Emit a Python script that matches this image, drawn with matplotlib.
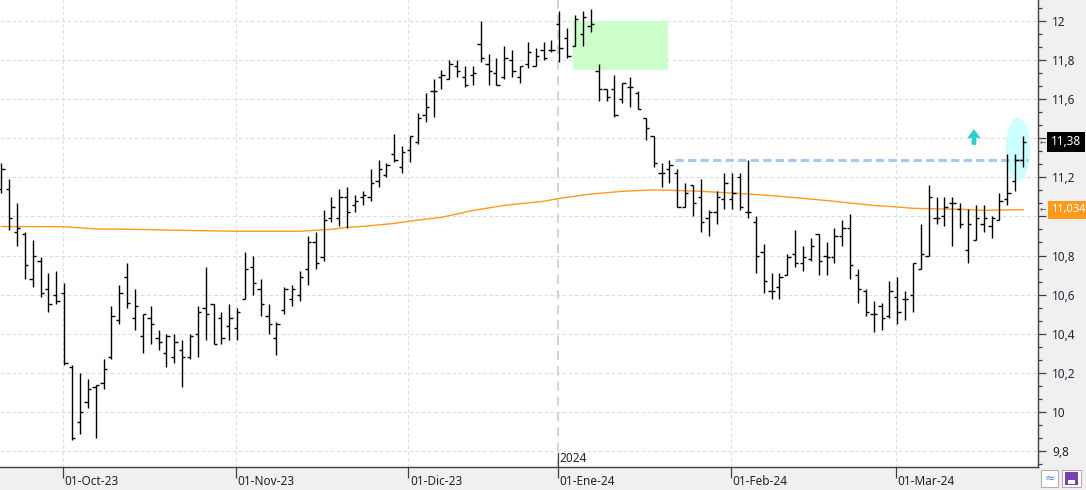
import numpy as np
import pandas as pd
import matplotlib
matplotlib.use("Agg")
import matplotlib.pyplot as plt
import matplotlib.transforms as mtransforms
from matplotlib.patches import Rectangle, Ellipse, Polygon
from matplotlib.ticker import MultipleLocator, FixedLocator

plt.rcParams['font.family'] = ['Noto Sans', 'DejaVu Sans']

# daily OHLC, 20-Sep-23 .. 25-Mar-24 (BME calendar)
opens = [11.14, 11.14, 10.92, 10.91, 10.68, 10.77, 10.63, 10.60, 10.61, 10.23,
         9.95, 10.05, 10.13, 10.15, 10.28, 10.47, 10.69, 10.48, 10.39, 10.48,
         10.38, 10.30, 10.28, 10.32, 10.28, 10.40, 10.53, 10.55, 10.48, 10.44,
         10.43, 10.58, 10.74, 10.63, 10.49, 10.38, 10.52, 10.58, 10.60, 10.73,
         10.87, 10.79, 10.99, 10.99, 11.10, 11.06, 11.10, 11.10, 11.18, 11.21,
         11.32, 11.25, 11.34, 11.38, 11.52, 11.64, 11.71, 11.70, 11.77, 11.71,
         11.72, 11.88, 11.78, 11.73, 11.71, 11.80, 11.71, 11.78, 11.77, 11.85,
         11.85, 11.98, 11.91, 11.87, 11.93, 11.97, 11.74, 11.65, 11.65, 11.60,
         11.66, 11.63, 11.50, 11.41, 11.22, 11.24, 11.22, 11.05, 11.16, 11.10,
         10.99, 11.02, 11.09, 11.09, 11.20, 11.02, 10.97, 10.82, 10.62, 10.64,
         10.70, 10.81, 10.76, 10.78, 10.91, 10.80, 10.79, 10.90, 10.94, 10.70,
         10.62, 10.50, 10.54, 10.49, 10.59, 10.58, 10.60, 10.73, 10.80, 10.99,
         11.00, 11.07, 11.04, 10.83, 10.88, 10.96, 10.95, 10.98, 11.09, 11.18,
         11.29]
highs = [11.27, 11.19, 11.07, 10.92, 10.88, 10.79, 10.71, 10.72, 10.66, 10.24,
         10.20, 10.17, 10.14, 10.27, 10.54, 10.65, 10.76, 10.63, 10.50, 10.54,
         10.42, 10.40, 10.40, 10.37, 10.40, 10.54, 10.74, 10.55, 10.51, 10.55,
         10.53, 10.82, 10.80, 10.68, 10.55, 10.46, 10.64, 10.65, 10.72, 10.90,
         10.92, 11.03, 11.10, 11.14, 11.15, 11.11, 11.13, 11.24, 11.29, 11.27,
         11.42, 11.36, 11.41, 11.53, 11.63, 11.70, 11.75, 11.80, 11.80, 11.77,
         11.77, 12.00, 11.83, 11.81, 11.87, 11.85, 11.77, 11.89, 11.86, 11.89,
         11.90, 12.05, 11.96, 12.03, 12.05, 12.06, 11.78, 11.65, 11.72, 11.68,
         11.71, 11.64, 11.50, 11.41, 11.27, 11.29, 11.24, 11.17, 11.16, 11.19,
         11.03, 11.13, 11.22, 11.22, 11.22, 11.29, 11.00, 10.86, 10.71, 10.71,
         10.81, 10.93, 10.85, 10.89, 10.91, 10.87, 10.94, 10.98, 11.01, 10.73,
         10.63, 10.57, 10.56, 10.67, 10.69, 10.62, 10.76, 10.96, 11.16, 11.10,
         11.10, 11.10, 11.07, 11.04, 11.06, 11.06, 11.00, 11.12, 11.32, 11.32,
         11.41]
lows = [11.12, 10.93, 10.85, 10.68, 10.64, 10.59, 10.51, 10.55, 10.24, 9.86,
        9.89, 10.02, 9.87, 10.12, 10.27, 10.45, 10.53, 10.42, 10.30, 10.35,
        10.32, 10.23, 10.25, 10.13, 10.27, 10.28, 10.37, 10.35, 10.35, 10.37,
        10.37, 10.58, 10.60, 10.49, 10.40, 10.29, 10.50, 10.54, 10.57, 10.65,
        10.73, 10.77, 10.97, 10.95, 10.94, 11.02, 11.06, 11.08, 11.15, 11.20,
        11.28, 11.22, 11.28, 11.37, 11.48, 11.51, 11.65, 11.70, 11.71, 11.66,
        11.67, 11.79, 11.67, 11.67, 11.70, 11.71, 11.68, 11.76, 11.77, 11.80,
        11.84, 11.79, 11.81, 11.87, 11.87, 11.94, 11.59, 11.59, 11.51, 11.58,
        11.56, 11.55, 11.39, 11.25, 11.15, 11.17, 11.05, 11.05, 11.00, 10.92,
        10.90, 10.96, 11.04, 11.04, 11.03, 10.99, 10.71, 10.61, 10.58, 10.58,
        10.70, 10.74, 10.72, 10.77, 10.70, 10.70, 10.76, 10.85, 10.68, 10.56,
        10.49, 10.41, 10.42, 10.48, 10.45, 10.47, 10.51, 10.73, 10.80, 10.96,
        10.95, 10.85, 10.94, 10.76, 10.88, 10.92, 10.89, 10.98, 11.06, 11.13,
        11.25]
closes = [11.24, 10.99, 10.94, 10.75, 10.80, 10.61, 10.55, 10.57, 10.25, 9.87,
          10.00, 10.12, 10.14, 10.22, 10.49, 10.61, 10.56, 10.54, 10.50, 10.45,
          10.36, 10.39, 10.36, 10.28, 10.39, 10.51, 10.50, 10.35, 10.38, 10.48,
          10.51, 10.73, 10.66, 10.55, 10.45, 10.45, 10.63, 10.63, 10.69, 10.87,
          10.76, 10.98, 11.05, 11.10, 11.02, 11.08, 11.11, 11.17, 11.24, 11.26,
          11.29, 11.33, 11.41, 11.50, 11.56, 11.64, 11.72, 11.78, 11.74, 11.67,
          11.73, 11.81, 11.74, 11.67, 11.81, 11.74, 11.77, 11.84, 11.82, 11.81,
          11.85, 11.86, 11.82, 12.01, 12.02, 11.98, 11.65, 11.61, 11.52, 11.68,
          11.66, 11.55, 11.45, 11.27, 11.22, 11.26, 11.05, 11.12, 11.07, 10.97,
          11.02, 11.10, 11.17, 11.12, 11.05, 11.02, 10.80, 10.67, 10.62, 10.69,
          10.79, 10.76, 10.79, 10.85, 10.77, 10.79, 10.90, 10.94, 10.75, 10.63,
          10.51, 10.50, 10.48, 10.62, 10.51, 10.58, 10.76, 10.81, 11.10, 10.99,
          11.05, 11.07, 10.96, 10.96, 10.99, 10.99, 10.99, 11.08, 11.12, 11.29,
          11.38]

# moving average read at some bars (bar index, value)
ma_idx = [0, 8, 12, 18, 22, 30, 38, 40, 42, 44, 46, 50, 52, 56, 60, 64, 69,
          71, 75, 79, 83, 88, 93, 98, 102, 106, 108, 111, 114, 116, 122, 125, 130]
ma_val = [10.948, 10.947, 10.936, 10.933, 10.929, 10.924, 10.924, 10.929,
          10.934, 10.944, 10.949, 10.964, 10.976, 10.995, 11.030, 11.056,
          11.077, 11.092, 11.114, 11.128, 11.135, 11.130, 11.119, 11.106,
          11.092, 11.077, 11.068, 11.056, 11.048, 11.041, 11.036, 11.031, 11.034]

resistance = 11.287
last_close = 11.38
last_ma = 11.034

dates = pd.bdate_range("2023-09-20", "2024-03-25")
dates = dates.drop(pd.to_datetime(["2023-12-25", "2023-12-26", "2024-01-01"]))
month_names = {1: "Ene", 2: "Feb", 3: "Mar", 10: "Oct", 11: "Nov", 12: "Dic"}

x = np.arange(len(closes))

fig = plt.figure(figsize=(10.86, 4.90), dpi=100, facecolor="#f0f0f0")
ax = fig.add_axes([0, 23 / 490, 1038 / 1086, 467 / 490])
ax.set_facecolor("white")

ax.set_xlim(-0.17, 131.9)
ax.set_ylim(9.72, 12.105)

# grid
for v in np.arange(9.8, 12.01, 0.2):
    ax.axhline(v, color="#dcdcdc", lw=0.8, ls=(0, (3, 2.5)), zorder=0)

first_days = []
for i in range(1, len(dates)):
    if dates[i].month != dates[i - 1].month:
        first_days.append(i)
for i in first_days:
    if dates[i].year == 2024 and dates[i].month == 1:
        ax.axvline(i - 0.2, color="#c8c8c8", lw=1.1, ls=(0, (6, 4)), zorder=0)
    else:
        ax.axvline(i - 0.2, color="#dcdcdc", lw=0.8, ls=(0, (3, 2.5)), zorder=0)

# highlight zones
ax.add_patch(Rectangle((72.75, 11.745), 12.05, 0.252, color="#ccffcc", lw=0, zorder=1))
ax.add_patch(Ellipse((129.35, 11.342), 3.05, 0.327, color="#ccffff", lw=0, zorder=1))

# moving average
ax.plot(ma_idx, ma_val, color="#ff9a1a", lw=1.0, zorder=2)

# resistance line
ax.plot([85.7, 130.6], [resistance, resistance], color="#a8c8f0", lw=2.2,
        ls=(0, (2.7, 1.4)), solid_capstyle="butt", zorder=2)

# ohlc bars
ax.vlines(x, lows, highs, color="black", lw=1.0, zorder=3)
ax.hlines(opens, x - 0.42, x, color="black", lw=1.0, zorder=3)
ax.hlines(closes, x, x + 0.42, color="black", lw=1.0, zorder=3)

# up arrow
cx = 123.75
arrow = Polygon([(cx - 0.3, 11.365), (cx + 0.3, 11.365), (cx + 0.3, 11.40),
                 (cx + 0.83, 11.40), (cx, 11.446), (cx - 0.83, 11.40),
                 (cx - 0.3, 11.40)], closed=True, color="#33cccc", lw=0, zorder=4)
ax.add_patch(arrow)

# axes look
for s in ["top", "left"]:
    ax.spines[s].set_visible(False)
ax.spines["bottom"].set_color("#404040")
ax.spines["right"].set_color("#404040")
ax.spines["bottom"].set_linewidth(1.0)
ax.spines["right"].set_linewidth(1.0)

yt = np.round(np.arange(9.8, 12.01, 0.2), 1)
ax.yaxis.tick_right()
ax.yaxis.set_major_locator(FixedLocator(yt))
ax.yaxis.set_minor_locator(MultipleLocator(0.2 / 3))
# 11,4 and 11 sit under the value tags
ax.set_yticklabels(["" if v in (11.4, 11.0) else f"{v:g}".replace(".", ",") for v in yt])
ax.tick_params(axis="y", which="major", length=6, width=0.9, color="#404040",
               labelsize=8.5, labelcolor="#222233", pad=4)
ax.tick_params(axis="y", which="minor", length=3, width=0.9, color="#404040")

ax.set_xticks([i - 0.2 for i in first_days])
ax.set_xticklabels([])
ax.tick_params(axis="x", length=8, width=0.9, color="#404040", direction="out")

trans = mtransforms.blended_transform_factory(ax.transData, ax.transAxes)
for i in first_days:
    d = dates[i]
    lab = f"01-{month_names[d.month]}-{d.strftime('%y')}"
    ax.text(i + 0.05, -0.03, lab, transform=trans, ha="left", va="center",
            fontsize=8.5, color="#222233", clip_on=False)
    if d.month == 1:
        ax.text(i + 0.05, 0.018, str(d.year), transform=trans, ha="left",
                va="center", fontsize=8.5, color="#222233")
        ax.plot([i - 0.2, i - 0.2], [0, 0.03], color="#404040", lw=0.9,
                transform=trans, clip_on=False)

# value tags on the price scale
trans_y = mtransforms.blended_transform_factory(ax.transAxes, ax.transData)
ax.text(1.0125, last_close, "11,38", transform=trans_y, ha="left", va="center",
        fontsize=8.5, color="white", clip_on=False,
        bbox=dict(boxstyle="square,pad=0.3", fc="black", ec="none"))
ax.text(1.0125, last_ma, "11,034", transform=trans_y, ha="left", va="center",
        fontsize=8, color="white", clip_on=False,
        bbox=dict(boxstyle="square,pad=0.3", fc="#ff9a1a", ec="none"))
for v in [last_close, last_ma]:
    ax.text(1.0015, v, "←", transform=trans_y, ha="left", va="center",
            fontsize=5.5, color="#555555", clip_on=False, family="DejaVu Sans")

# small toolbar buttons at bottom right
fig.patches.append(Rectangle((1041 / 1086, 3 / 490), 17 / 1086, 17 / 490,
                             transform=fig.transFigure, fc="white", ec="#b0b0b0", lw=0.8))
fig.patches.append(Rectangle((1062 / 1086, 3 / 490), 19 / 1086, 17 / 490,
                             transform=fig.transFigure, fc="white", ec="#b0b0b0", lw=0.8))
fig.text(1049.5 / 1086, 11.5 / 490, "≈", ha="center", va="center", fontsize=9,
         color="#5b8fd0", family="DejaVu Sans")
fig.patches.append(Rectangle((1065 / 1086, 5 / 490), 13 / 1086, 13 / 490,
                             transform=fig.transFigure, fc="#7a3fb0", ec="none"))
fig.patches.append(Rectangle((1068 / 1086, 6.5 / 490), 7 / 1086, 4 / 490,
                             transform=fig.transFigure, fc="white", ec="none"))

fig.savefig("out.png", dpi=100, facecolor=fig.get_facecolor())
